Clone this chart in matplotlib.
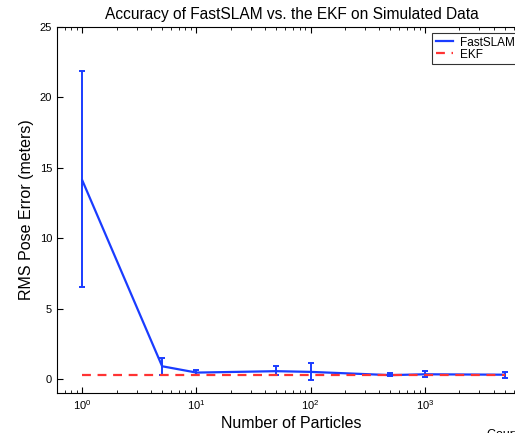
import matplotlib.pyplot as plt
import numpy as np

plt.rcParams['font.family'] = ['Liberation Sans', 'DejaVu Sans']

# number of particles
particles = [1, 5, 10, 50, 100, 500, 1000, 5000]
# FastSLAM rms error and error bar limits
fastslam_mean = [14.1, 0.9, 0.45, 0.55, 0.5, 0.27, 0.33, 0.3]
fastslam_low = [6.5, 0.28, 0.26, 0.26, -0.1, 0.18, 0.11, 0.09]
fastslam_high = [21.9, 1.49, 0.64, 0.9, 1.13, 0.4, 0.57, 0.52]
# EKF rms error
ekf_x = [1, 5000]
ekf_y = [0.26, 0.26]

mean = np.array(fastslam_mean)
yerr = [mean - np.array(fastslam_low), np.array(fastslam_high) - mean]

fig = plt.figure(figsize=(5.15, 4.33), dpi=100)
ax = fig.add_axes([57/515, 40/433, 469/515, 366/433])

blue = '#1a3cff'
ax.errorbar(particles, fastslam_mean, yerr=yerr, fmt='none', ecolor=blue,
            elinewidth=1.4, capsize=2.5, capthick=1.4)
line_fs, = ax.plot(particles, fastslam_mean, color=blue, lw=1.6, label='FastSLAM')
line_ekf, = ax.plot(ekf_x, ekf_y, color='#ff3333', lw=1.6, dashes=(4, 3), label='EKF')

ax.set_xscale('log')
ax.set_xlim(0.6, 7700)
ax.set_ylim(-1, 25)
ax.set_yticks([0, 5, 10, 15, 20, 25])
ax.tick_params(which='both', direction='in', top=True, right=True, labelsize=8)
ax.tick_params(which='major', length=4)
ax.tick_params(which='minor', length=2)

ax.set_title('Accuracy of FastSLAM vs. the EKF on Simulated Data', fontsize=11.2)
ax.set_xlabel('Number of Particles', fontsize=11.5, labelpad=3)
ax.set_ylabel('RMS Pose Error (meters)', fontsize=11.5)

leg = ax.legend(handles=[line_fs, line_ekf], loc='upper left', fontsize=8.5,
                frameon=True, fancybox=False, handlelength=1.5,
                borderpad=0.3, labelspacing=0.0, handletextpad=0.6,
                borderaxespad=0, bbox_to_anchor=(0.7996, 0.9836))
leg.get_frame().set_edgecolor('black')
leg.get_frame().set_linewidth(0.8)

fig.text(487/515, 4/433, 'Courtesy of', fontsize=9, va='top')

fig.savefig('out.png', dpi=100)
